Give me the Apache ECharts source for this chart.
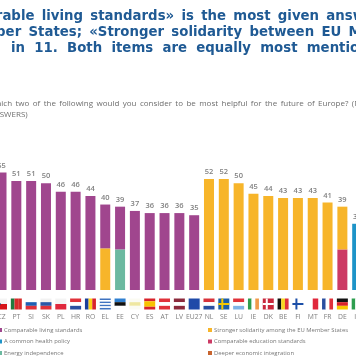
<!DOCTYPE html>
<html>
<head>
<meta charset="utf-8">
<style>
  html, body { margin: 0; padding: 0; background: #fff; overflow: hidden; }
  /* chart is cropped on both sides in the source, so the canvas hangs past the window */
  #chart { position: absolute; left: -20px; top: 0; width: 400px; height: 364px; }
</style>
<script src="https://cdn.jsdelivr.net/npm/echarts@6/dist/echarts.min.js"></script>
</head>
<body>
<div id="chart"></div>
<script>
'use strict'

const countries = ['CZ','PT','SI','SK','PL','HR','RO','EL','EE','CY','ES','AT','LV','EU27','NL','SE','LU','IE','DK','BE','FI','MT','FR','DE','IT'];
const totals    = [55,51,51,50,46,46,44,40,39,37,36,36,36,35,52,52,50,45,44,43,43,43,41,39,31];

const livingStandards = [55,51,51,50,46,46,44,20.5,20,37,36,36,36,35,0,0,0,0,0,0,0,0,0,0,0];
const solidarity      = [0,0,0,0,0,0,0,19.5,0,0,0,0,0,0,52,52,50,45,44,43,43,43,41,20,0];
const energy          = [0,0,0,0,0,0,0,0,19,0,0,0,0,0,0,0,0,0,0,0,0,0,0,0,0];
const education       = [0,0,0,0,0,0,0,0,0,0,0,0,0,0,0,0,0,0,0,0,0,0,0,19,0];
const health          = [0,0,0,0,0,0,0,0,0,0,0,0,0,0,0,0,0,0,0,0,0,0,0,0,31];
const integration     = [];

// the source text is justified, so each line gets its own word gap
const titleLines = [
  '«Comparable living standards» is the most given answer'.replace(/ /g, ' \u2009'),
  'Member States; «Stronger solidarity between EU Member'.replace(/ /g, ' \u2009'),
  'in 11. Both items are equally most mentioned'.replace(/ /g, '  ')
];
const questionLines = [
  'Which two of the following would you consider to be most helpful for the future of Europe? (MAX.'.replace(/ /g, ' \u2009'),
  '2 ANSWERS)'
];

// flag stripes, h = horizontal bands, v = vertical bands, cross = nordic cross
const flags = {
  CZ: { h: ['#f4f4f4', '#d7141a'], tri: '#11457e' },
  PT: { v: ['#1f7a3d', '#d62b2b', '#d62b2b'] },
  SI: { h: ['#ffffff', '#1d5fb4', '#e0323a'] },
  SK: { h: ['#f2f2f2', '#2a58a8', '#e0323a'] },
  PL: { h: ['#f4f4f4', '#e0283c'] },
  HR: { h: ['#e0323a', '#ffffff', '#2a4fa0'] },
  RO: { v: ['#1b3f9a', '#fcd116', '#d8232a'] },
  EL: { h: ['#3f73c0', '#ffffff', '#3f73c0', '#ffffff', '#3f73c0', '#ffffff', '#3f73c0'] },
  EE: { h: ['#2f7fd0', '#111111', '#ffffff'] },
  CY: { h: ['#fbfbf2', '#efe7a0', '#fbfbf2'] },
  ES: { h: ['#d8232a', '#f8c300', '#f8c300', '#d8232a'] },
  AT: { h: ['#e0323a', '#ffffff', '#e0323a'] },
  LV: { h: ['#8c2a3c', '#ffffff', '#8c2a3c'] },
  EU27: { h: ['#1f4aa8'] },
  NL: { h: ['#d8323a', '#ffffff', '#2a4fa0'] },
  SE: { h: ['#1c5fa8'], cross: '#f5c800' },
  LU: { h: ['#e0323a', '#ffffff', '#7fb4e6'] },
  IE: { v: ['#2e9e4f', '#ffffff', '#f09a4a'] },
  DK: { h: ['#c8283c'], cross: '#ffffff' },
  BE: { v: ['#111111', '#f8d820', '#e0323a'] },
  FI: { h: ['#ffffff'], cross: '#1c4fa8' },
  MT: { v: ['#ffffff', '#e0283c'] },
  FR: { v: ['#2a4fa0', '#ffffff', '#e0323a'] },
  DE: { h: ['#111111', '#d8232a', '#f8c800'] },
  IT: { v: ['#2e9e4f', '#ffffff', '#e0323a'] }
};

const barSeries = (name, data, color) => ({
  name: name, type: 'bar', stack: 'mention', barWidth: 10, data: data,
  itemStyle: { color: color }
});

function renderFlag(params, api)
{
  const f = flags[countries[api.value(0)]];
  const c = api.coord([api.value(0), 0]);
  const w = 11, h = 11;
  const x = c[0] - w / 2, y = c[1] + 8.5;
  const bands = f.h || f.v;
  const kids = bands.map((col, i) => ({
    type: 'rect',
    shape: f.h
      ? { x: x, y: y + i * h / bands.length, width: w, height: h / bands.length }
      : { x: x + i * w / bands.length, y: y, width: w / bands.length, height: h },
    style: { fill: col }
  }));
  if (f.cross) {
    kids.push({ type: 'rect', shape: { x: x + 3, y: y, width: 2, height: h }, style: { fill: f.cross } });
    kids.push({ type: 'rect', shape: { x: x, y: y + 4.5, width: w, height: 2 }, style: { fill: f.cross } });
  }
  if (f.tri) {
    kids.push({ type: 'polygon', shape: { points: [[x, y], [x + 5, y + h / 2], [x, y + h]] }, style: { fill: f.tri } });
  }
  return { type: 'group', children: kids };
}

const chart = echarts.init(document.getElementById('chart'), null, { renderer: 'canvas' });

const titleStyle = { fontFamily: 'DejaVu Sans', fontWeight: 'bold', fontSize: 13.3, color: '#1f5a94' };
const questionStyle = { fontFamily: 'Open Sans', fontWeight: 'normal', fontSize: 8, color: '#6e6e6e' };
const legendText = { fontFamily: 'Open Sans', fontSize: 5.9, color: '#777777', padding: [0, 0, 0, -3] };

const option = {
  animation: false,
  backgroundColor: '#ffffff',
  title: [
    { text: titleLines[0], left: -44, top: 10, textStyle: titleStyle, padding: 0 },
    { text: titleLines[1], left: -20, top: 26, textStyle: titleStyle, padding: 0 },
    { text: titleLines[2], left: 31, top: 42, textStyle: titleStyle, padding: 0 },
    { text: questionLines[0], left: 9, top: 100, textStyle: questionStyle, padding: 0 },
    { text: questionLines[1], left: 2, top: 111, textStyle: questionStyle, padding: 0 }
  ],
  legend: [
    {
      orient: 'vertical', left: 18, top: 327, padding: 0, itemGap: 5.5,
      itemWidth: 4, itemHeight: 4, icon: 'rect', selectedMode: false,
      textStyle: legendText,
      data: ['Comparable living standards', 'A common health policy', 'Energy independence']
    },
    {
      orient: 'vertical', left: 228, top: 327, padding: 0, itemGap: 5.5,
      itemWidth: 4, itemHeight: 4, icon: 'rect', selectedMode: false,
      textStyle: legendText,
      data: ['Stronger solidarity among the EU Member States', 'Comparable education standards', 'Deeper economic integration']
    }
  ],
  grid: { left: 14.1, right: 15.4, top: 161.8, bottom: 74 },
  xAxis: {
    type: 'category', data: countries,
    axisLine: { show: false }, axisTick: { show: false },
    axisLabel: {
      interval: 0, margin: 24, fontFamily: 'Open Sans', fontSize: 6.8, color: '#808080'
    }
  },
  yAxis: { type: 'value', min: 0, max: 60, show: false, splitLine: { show: false } },
  series: [
    barSeries('Energy independence', energy, '#6bb9a0'),
    barSeries('Comparable education standards', education, '#cc3a64'),
    barSeries('Stronger solidarity among the EU Member States', solidarity, '#f7b52a'),
    barSeries('A common health policy', health, '#1e94c8'),
    barSeries('Comparable living standards', livingStandards, '#a0468e'),
    barSeries('Deeper economic integration', integration, '#c8642e'),
    {
      type: 'scatter', data: totals, symbolSize: 0, silent: true,
      label: {
        show: true, position: 'top', distance: 3, formatter: '{c}',
        fontFamily: 'Open Sans', fontWeight: 600, fontSize: 7.5, color: '#5f5f5f'
      }
    },
    {
      type: 'custom', clip: false, silent: true,
      data: countries.map((c, i) => [i]),
      encode: { x: 0 },
      renderItem: renderFlag
    }
  ]
};

chart.setOption(option);
</script>
</body>
</html>
